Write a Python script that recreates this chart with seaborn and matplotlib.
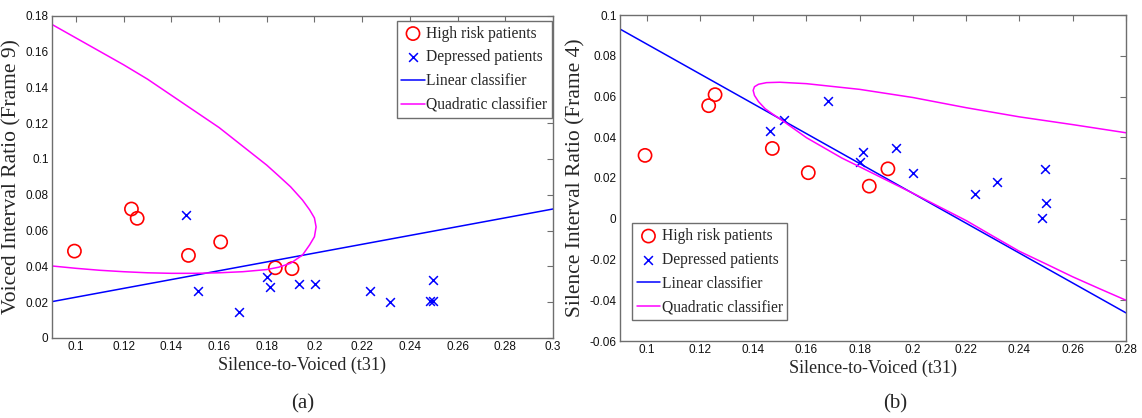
import pandas as pd
import seaborn as sns
import matplotlib.pyplot as plt

# --- data ---
# silence-to-voiced (t31), shared by both panels
t31_high = [0.0994, 0.1233, 0.1257, 0.1472, 0.1607, 0.1836, 0.1906]
t31_dep = [0.1463, 0.1514, 0.1682, 0.1803, 0.1813, 0.1936, 0.2002,
           0.2233, 0.2317, 0.2484, 0.2495, 0.2499]

# panel (a): voiced interval ratio (frame 9)
vir_high = [0.0485, 0.0720, 0.0668, 0.0461, 0.0536, 0.0392, 0.0387]
vir_dep = [0.0686, 0.0262, 0.0145, 0.0342, 0.0286, 0.0301, 0.0301,
           0.0264, 0.0201, 0.0206, 0.0206, 0.0324]

# panel (b): silence interval ratio (frame 4)
sir_high = [0.0311, 0.0555, 0.0609, 0.0345, 0.0226, 0.0160, 0.0245]
sir_dep = [0.0430, 0.0484, 0.0578, 0.0280, 0.0327, 0.0345, 0.0223,
           0.0121, 0.0179, 0.0002, 0.0244, 0.0075]

# linear classifier boundaries
lin_a_x = [0.09, 0.30]
lin_a_y = [0.0203, 0.0720]
lin_b_x = [0.09, 0.28]
lin_b_y = [0.0931, -0.0462]

# quadratic classifier boundaries
quad_a_x = [0.09, 0.10, 0.11, 0.12, 0.13, 0.14, 0.15, 0.16, 0.17, 0.18, 0.185,
            0.19, 0.195, 0.198, 0.200, 0.2007, 0.200, 0.198, 0.195, 0.19, 0.185,
            0.18, 0.17, 0.16, 0.15, 0.14, 0.13, 0.12, 0.11, 0.10, 0.09]
quad_a_y = [0.1750, 0.1675, 0.1600, 0.1525, 0.1445, 0.1355, 0.1265, 0.1175,
            0.1070, 0.0965, 0.0905, 0.0844, 0.0770, 0.0715, 0.0670, 0.0620,
            0.0565, 0.0520, 0.0463, 0.0417, 0.0395, 0.0382, 0.0370, 0.0364,
            0.0361, 0.0361, 0.0364, 0.0370, 0.0378, 0.0389, 0.0402]
quad_b_x = [0.28, 0.26, 0.24, 0.22, 0.20, 0.18, 0.16, 0.15, 0.145, 0.142,
            0.1405, 0.140, 0.1405, 0.142, 0.1445, 0.1472, 0.1514, 0.16, 0.1733,
            0.18, 0.19, 0.20, 0.21, 0.22, 0.23, 0.24, 0.25, 0.26, 0.27, 0.28]
quad_b_y = [0.0422, 0.0462, 0.0500, 0.0545, 0.0595, 0.0635, 0.0663, 0.0670,
            0.0668, 0.0660, 0.0648, 0.0630, 0.0605, 0.0575, 0.0540, 0.0515,
            0.0478, 0.0398, 0.0298, 0.0255, 0.0190, 0.0125, 0.0058, -0.0009,
            -0.0085, -0.0160, -0.0222, -0.0285, -0.0343, -0.0400]

# tick values
xticks_a = [0.10, 0.12, 0.14, 0.16, 0.18, 0.20, 0.22, 0.24, 0.26, 0.28, 0.30]
yticks_a = [0.00, 0.02, 0.04, 0.06, 0.08, 0.10, 0.12, 0.14, 0.16, 0.18]
xticks_b = [0.10, 0.12, 0.14, 0.16, 0.18, 0.20, 0.22, 0.24, 0.26, 0.28]
yticks_b = [-0.06, -0.04, -0.02, 0.00, 0.02, 0.04, 0.06, 0.08, 0.10]

# --- styling ---
sns.set_style("white")
plt.rcParams['font.family'] = ['Liberation Sans', 'DejaVu Sans']
SERIF = ['Liberation Serif', 'DejaVu Serif']
EDGE = '#6e6e6e'

fig = plt.figure(figsize=(11.42, 4.18), dpi=100)
ax1 = fig.add_axes([52 / 1142, 80 / 418, 501 / 1142, 322.5 / 418])
ax2 = fig.add_axes([620 / 1142, 77 / 418, 506 / 1142, 326 / 418])


def draw_panel(ax, y_high, y_dep, lin_x, lin_y, qx, qy):
    sns.scatterplot(x=t31_high, y=y_high, ax=ax, marker='o', s=90,
                    facecolors='none', edgecolor='red', linewidth=1.2,
                    label='High risk patients')
    sns.scatterplot(x=t31_dep, y=y_dep, ax=ax, marker='x', s=40,
                    color='blue', linewidth=1.1, label='Depressed patients')
    lin = pd.DataFrame({'x': lin_x, 'y': lin_y})
    sns.lineplot(data=lin, x='x', y='y', ax=ax, color='blue', linewidth=1.1,
                 label='Linear classifier')
    quad = pd.DataFrame({'x': qx, 'y': qy})
    sns.lineplot(data=quad, x='x', y='y', ax=ax, color='magenta', linewidth=1.1,
                 sort=False, estimator=None, label='Quadratic classifier')


def style_axes(ax, xticks, yticks, xlim, ylim, ylabel):
    ax.set_xlim(*xlim)
    ax.set_ylim(*ylim)
    ax.set_xticks(xticks)
    ax.set_yticks(yticks)
    ax.set_xticklabels([f'{v:g}' for v in xticks])
    ax.set_yticklabels([f'{v:g}' for v in yticks])
    ax.tick_params(direction='in', length=4.5, width=0.8, color=EDGE,
                   top=True, right=True, labelsize=8.5, pad=2.5,
                   labelcolor='#111111')
    for sp in ax.spines.values():
        sp.set_color(EDGE)
        sp.set_linewidth(1.0)
    ax.set_xlabel('Silence-to-Voiced (t31)', family=SERIF, fontsize=13,
                  labelpad=2)
    ax.set_ylabel(ylabel, family=SERIF, fontsize=15.5, labelpad=3)


draw_panel(ax1, vir_high, vir_dep, lin_a_x, lin_a_y, quad_a_x, quad_a_y)
draw_panel(ax2, sir_high, sir_dep, lin_b_x, lin_b_y, quad_b_x, quad_b_y)

style_axes(ax1, xticks_a, yticks_a, (0.09, 0.30), (0, 0.18),
           'Voiced Interval Ratio (Frame 9)')
style_axes(ax2, xticks_b, yticks_b, (0.09, 0.28), (-0.06, 0.10),
           'Silence Interval Ratio (Frame 4)')


def style_legend(ax, loc, anchor):
    handles, labels = ax.get_legend_handles_labels()
    leg = ax.legend(handles, labels, loc=loc, bbox_to_anchor=anchor,
                    borderaxespad=0, prop={'family': SERIF, 'size': 11.2},
                    frameon=True, fancybox=False, framealpha=1,
                    edgecolor=EDGE, handlelength=1.5, handletextpad=0.1,
                    labelspacing=0.5, borderpad=0.3)
    leg.get_frame().set_linewidth(1.0)


style_legend(ax1, 'upper right', (0.998, 0.983))
style_legend(ax2, 'lower left', (0.024, 0.064))

fig.text(303 / 1142, 1 - 404 / 418, '(a)', family=SERIF, fontsize=15,
         ha='center', va='center')
fig.text(895 / 1142, 1 - 404 / 418, '(b)', family=SERIF, fontsize=15,
         ha='center', va='center')

fig.savefig('out.png', dpi=100)
